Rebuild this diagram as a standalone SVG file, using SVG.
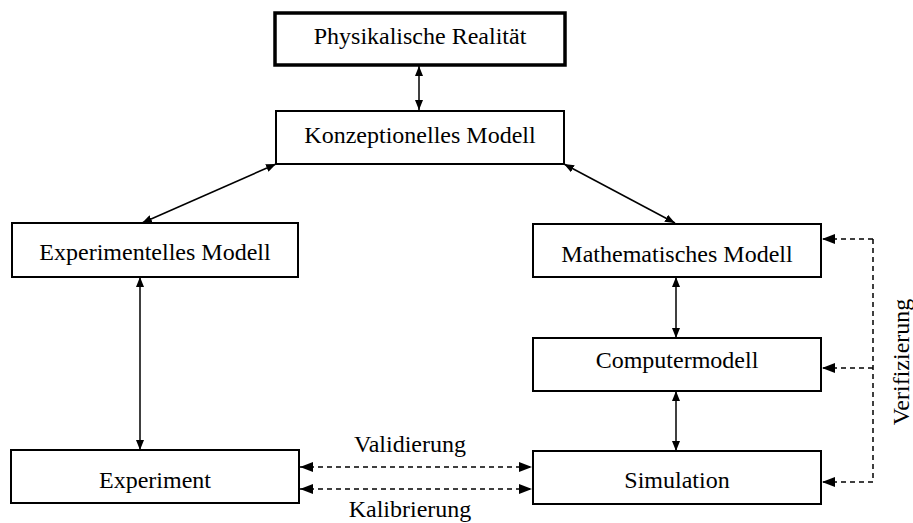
<svg xmlns="http://www.w3.org/2000/svg" width="913" height="523" viewBox="0 0 913 523">
<style>
.box{fill:#fff;stroke:#000;stroke-width:2}
.thick{stroke-width:3.5}
.t{font-family:"Liberation Serif","Times New Roman",serif;font-size:24px;fill:#000;text-anchor:middle}
.c{fill:none;stroke:#000;stroke-width:1.5}
.d{fill:none;stroke:#000;stroke-width:1.5;stroke-dasharray:5,4}
</style>
<defs>
<marker id="a" viewBox="0 0 10 8" refX="10" refY="4" markerWidth="10" markerHeight="8" markerUnits="userSpaceOnUse" orient="auto-start-reverse"><path d="M0,0L10,4L0,8z" fill="#000"/></marker>
<marker id="b" viewBox="0 0 13 10" refX="13" refY="5" markerWidth="13" markerHeight="10" markerUnits="userSpaceOnUse" orient="auto-start-reverse"><path d="M0,0L13,5L0,10z" fill="#000"/></marker>
</defs>
<g id="connectors">
<line class="c" x1="419" y1="66" x2="419" y2="110" marker-start="url(#a)" marker-end="url(#a)"/>
<line class="c" x1="276" y1="164" x2="142" y2="223" marker-start="url(#a)" marker-end="url(#a)"/>
<line class="c" x1="564" y1="164" x2="675" y2="223" marker-start="url(#a)" marker-end="url(#a)"/>
<line class="c" x1="140" y1="277" x2="140" y2="450" marker-start="url(#a)" marker-end="url(#a)"/>
<line class="c" x1="676" y1="277" x2="676" y2="338" marker-start="url(#a)" marker-end="url(#a)"/>
<line class="c" x1="676" y1="391" x2="676" y2="451" marker-start="url(#a)" marker-end="url(#a)"/>
<line class="d" x1="300" y1="467" x2="532" y2="467" marker-start="url(#b)" marker-end="url(#b)"/>
<line class="d" x1="300" y1="489" x2="532" y2="489" marker-start="url(#b)" marker-end="url(#b)"/>
<polyline class="d" points="873,239 873,482"/>
<line class="d" x1="873" y1="239" x2="822" y2="239" marker-end="url(#b)"/>
<line class="d" x1="873" y1="368" x2="822" y2="368" marker-end="url(#b)"/>
<line class="d" x1="873" y1="482" x2="822" y2="482" marker-end="url(#b)"/>
<text class="t" x="410" y="452">Validierung</text>
<text class="t" x="410" y="517">Kalibrierung</text>
<text class="t" transform="translate(909,362) rotate(-90)">Verifizierung</text>
</g>
<g id="physikalische-realitaet"><rect class="box thick" x="275" y="13" width="290" height="52"/><text class="t" x="420" y="44">Physikalische Realität</text></g>
<g id="konzeptionelles-modell"><rect class="box" x="276" y="111" width="288" height="53"/><text class="t" x="420" y="143">Konzeptionelles Modell</text></g>
<g id="experimentelles-modell"><rect class="box" x="12" y="223" width="286" height="54"/><text class="t" x="155" y="260">Experimentelles Modell</text></g>
<g id="mathematisches-modell"><rect class="box" x="533" y="224" width="288" height="53"/><text class="t" x="677" y="262">Mathematisches Modell</text></g>
<g id="computermodell"><rect class="box" x="533" y="338" width="288" height="53"/><text class="t" x="677" y="368">Computermodell</text></g>
<g id="experiment"><rect class="box" x="11" y="450" width="288" height="53"/><text class="t" x="155" y="488">Experiment</text></g>
<g id="simulation"><rect class="box" x="533" y="451" width="288" height="53"/><text class="t" x="677" y="488">Simulation</text></g>
</svg>
